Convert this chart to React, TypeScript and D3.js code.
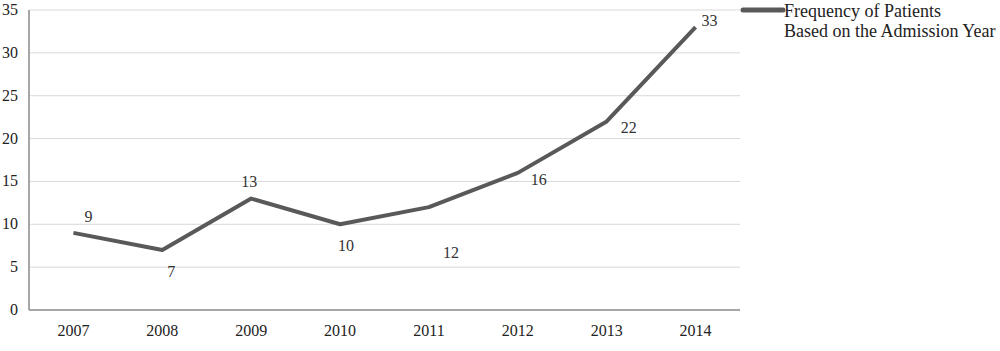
import { useMemo } from 'react';
import * as d3 from 'd3';

const YEARS = ['2007', '2008', '2009', '2010', '2011', '2012', '2013', '2014'];
const PATIENTS = [9, 7, 13, 10, 12, 16, 22, 33];
const Y_TICKS = [0, 5, 10, 15, 20, 25, 30, 35];
// label offsets (dx, dy) relative to each point, as placed in the original
const LABEL_OFFSETS: [number, number][] = [
  [15, -11], [9, 27], [-2, -12], [6, 27], [22, 51], [21, 12], [22, 12], [14, -1],
];
const LEGEND_LINES = ['Frequency of Patients', 'Based on the Admission Year'];

const W = 1000;
const H = 351;
const FONT = "'Liberation Serif', serif";

export default function App() {
  const left = 29;
  const right = 740;
  const top = 10;
  const bottom = 310;

  const x = useMemo(() => d3.scaleBand().domain(YEARS).range([left, right]), []);
  const y = useMemo(() => d3.scaleLinear().domain([0, 35]).range([bottom, top]), []);

  const line = d3.line<number>()
    .x((_, i) => (x(YEARS[i]) as number) + x.bandwidth() / 2)
    .y((d) => y(d));

  return (
    <svg width={W} height={H} style={{ position: 'absolute', left: 0, top: 0, background: '#fff' }}>
      {/* gridlines */}
      {Y_TICKS.filter((t) => t > 0).map((t) => (
        <line key={t} x1={left} x2={right} y1={y(t)} y2={y(t)} stroke="#d9d9d9" strokeWidth={1} />
      ))}
      {/* axes */}
      <line x1={left} x2={left} y1={top} y2={bottom} stroke="#a6a6a6" strokeWidth={2} />
      <line x1={left} x2={right} y1={bottom} y2={bottom} stroke="#a6a6a6" strokeWidth={2} />
      {Y_TICKS.map((t) => (
        <text key={t} x={18} y={y(t) + 5} textAnchor="end" fontFamily={FONT} fontSize={16} fill="#222">{t}</text>
      ))}
      {YEARS.map((yr) => (
        <text key={yr} x={(x(yr) as number) + x.bandwidth() / 2} y={336} textAnchor="middle" fontFamily={FONT} fontSize={16} fill="#222">{yr}</text>
      ))}
      <path d={line(PATIENTS) ?? ''} fill="none" stroke="#595959" strokeWidth={4} strokeLinejoin="round" />
      {PATIENTS.map((v, i) => (
        <text
          key={i}
          x={(x(YEARS[i]) as number) + x.bandwidth() / 2 + LABEL_OFFSETS[i][0]}
          y={y(v) + LABEL_OFFSETS[i][1]}
          textAnchor="middle"
          fontFamily={FONT}
          fontSize={16}
          fill="#333"
        >{v}</text>
      ))}
      {/* legend */}
      <line x1={743} x2={783} y1={10} y2={10} stroke="#595959" strokeWidth={5} strokeLinecap="round" />
      {LEGEND_LINES.map((l, i) => (
        <text key={l} x={784} y={17 + i * 20} fontFamily={FONT} fontSize={18} fill="#222">{l}</text>
      ))}
    </svg>
  );
}
